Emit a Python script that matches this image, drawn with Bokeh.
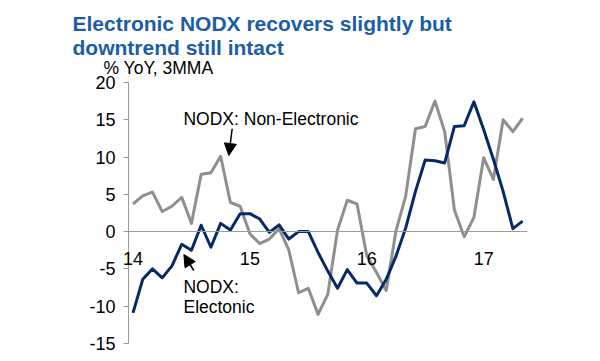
from bokeh.plotting import figure
from bokeh.models import Label, Arrow, NormalHead, FixedTicker, Range1d, LinearAxis
from bokeh.embed import file_html
from bokeh.resources import INLINE

# ---- data (3MMA % YoY), monthly Jan-2014 .. May-2017 ----
non_electronic = [3.7, 4.8, 5.3, 2.7, 3.4, 4.6, 1.1, 7.7, 7.9, 10.1,
                  3.9, 3.4, -0.3, -1.6, -1.0, 0.4, -2.5, -8.2, -7.6, -11.1,
                  -8.4, 0.2, 4.2, 3.7, -3.2, -5.5, -7.9, 0.1, 4.8, 13.8,
                  14.1, 17.5, 13.4, 2.9, -0.7, 1.9, 9.9, 7.0, 15.0, 13.4, 15.2]
electronic = [-10.9, -6.4, -5.0, -6.2, -4.6, -1.7, -2.5, 0.85, -2.1, 1.1,
              0.2, 2.4, 2.4, 1.7, -0.1, 0.9, -1.0, 0.0, 0.0, -2.8,
              -5.3, -7.6, -5.1, -6.9, -6.9, -8.6, -6.4, -3.3, 0.5, 5.4,
              9.6, 9.5, 9.2, 14.1, 14.2, 17.4, 13.7, 9.7, 5.4, 0.4, 1.4]
month_idx = list(range(len(electronic)))

year_labels = ["14", "15", "16", "17"]
year_idx = [0, 12, 24, 36]
y_ticks = [-15, -10, -5, 0, 5, 10, 15, 20]
y_tick_labels = ["-15", "-10", "-5", "0", "5", "10", "15", "20"]

FONT = "Liberation Sans"
GREY = "#8f8f8f"
AXIS_GREY = "#9a9a9a"
NAVY = "#062a68"
TITLE_BLUE = "#1b5da6"

# frame spans the whole canvas right of a 60px left border; axes use fixed locations
p = figure(width=600, height=361, output_backend="svg", toolbar_location=None,
           title=None, x_range=Range1d(-7.444, 47.998), y_range=Range1d(-16.08, 30.99),
           x_axis_location=None, y_axis_location=None,
           min_border_left=60, min_border_right=0, min_border_top=0, min_border_bottom=10)
p.outline_line_color = None
p.grid.visible = False
p.background_fill_color = "white"
p.border_fill_color = "white"

# value axis
yax = LinearAxis(fixed_location=-0.462, bounds=(-15, 20), ticker=FixedTicker(ticks=y_ticks))
yax.major_label_overrides = {t: s for t, s in zip(y_ticks, y_tick_labels)}
yax.axis_line_color = AXIS_GREY
yax.major_tick_line_color = AXIS_GREY
yax.major_tick_out = 5
yax.major_tick_in = 0
yax.minor_tick_line_color = None
yax.major_label_standoff = 8
yax.major_label_text_font = FONT
yax.major_label_text_font_size = "18px"
yax.major_label_text_color = "black"
p.add_layout(yax, "left")

# category (time) axis crossing at zero
xax = LinearAxis(fixed_location=0, bounds=(-0.462, 40.5), ticker=FixedTicker(ticks=year_idx))
xax.axis_line_color = AXIS_GREY
xax.major_tick_line_color = None
xax.major_tick_out = 0
xax.major_tick_in = 0
xax.minor_tick_line_color = None
xax.major_label_standoff = 0
xax.major_label_text_font_size = "0px"
xax.major_label_text_alpha = 0
p.add_layout(xax, "below")

# series
p.line(month_idx, non_electronic, line_color=GREY, line_width=3, line_join="round")
p.line(month_idx, electronic, line_color=NAVY, line_width=3, line_join="round")

# year labels
for xi, lab in zip(year_idx, year_labels):
    p.add_layout(Label(x=xi, y=-3.67, text=lab, text_font=FONT, text_font_size="18px",
                       text_align="center", text_baseline="middle", text_color="black"))

# titles
p.add_layout(Label(x=-6.21, y=27.87, text="Electronic NODX recovers slightly but",
                   text_font=FONT, text_font_size="21px", text_font_style="bold",
                   text_color=TITLE_BLUE, text_baseline="alphabetic"))
p.add_layout(Label(x=-6.21, y=24.73, text="downtrend still intact",
                   text_font=FONT, text_font_size="21px", text_font_style="bold",
                   text_color=TITLE_BLUE, text_baseline="alphabetic"))
p.add_layout(Label(x=-3.03, y=21.94, text="% YoY, 3MMA", text_font=FONT,
                   text_font_size="17.5px", text_baseline="middle", text_color="black"))

# annotations
p.add_layout(Label(x=5.18, y=15.10, text="NODX: Non-Electronic", text_font=FONT,
                   text_font_size="17.5px", text_baseline="middle", text_color="black"))
p.add_layout(Label(x=5.18, y=-7.43, text="NODX:", text_font=FONT,
                   text_font_size="17.5px", text_baseline="middle", text_color="black"))
p.add_layout(Label(x=5.18, y=-10.11, text="Electonic", text_font=FONT,
                   text_font_size="17.5px", text_baseline="middle", text_color="black"))

p.add_layout(Arrow(end=NormalHead(size=12, fill_color="black", line_color="black"),
                   x_start=10.18, y_start=13.79, x_end=9.84, y_end=10.20,
                   line_color="black", line_width=1.5))
p.add_layout(Arrow(end=NormalHead(size=12, fill_color="black", line_color="black"),
                   x_start=6.24, y_start=-5.22, x_end=5.22, y_end=-3.07,
                   line_color="black", line_width=1.5))

open("out.html", "w").write(file_html(p, INLINE))
